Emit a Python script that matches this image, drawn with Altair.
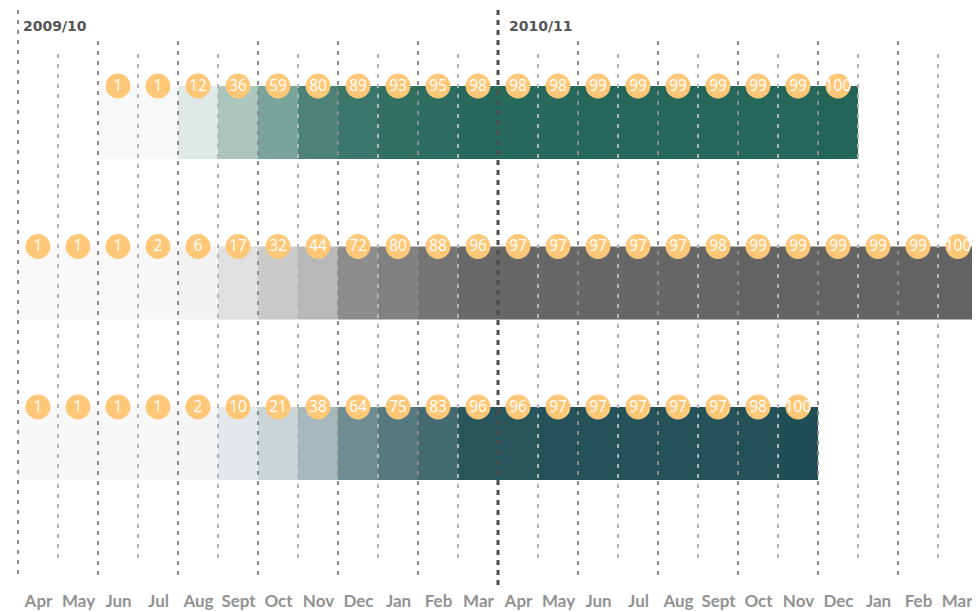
import json
import altair as alt
import pandas as pd

# ---- data ----
months = ["Apr", "May", "Jun", "Jul", "Aug", "Sept", "Oct", "Nov", "Dec", "Jan", "Feb", "Mar"]
month_labels = months + months          # Apr 2009 .. Mar 2011
years = ["2009/10", "2010/11"]
year_start_idx = [0, 12]

rows = ["A", "B", "C"]
row_a_start = 2   # Jun 2009
row_a = [1, 1, 12, 36, 59, 80, 89, 93, 95, 98, 98, 98, 99, 99, 99, 99, 99, 99, 100]
row_b_start = 0   # Apr 2009
row_b = [1, 1, 1, 2, 6, 17, 32, 44, 72, 80, 88, 96, 97, 97, 97, 97, 97, 98, 99, 99, 99, 99, 99, 100]
row_c_start = 0   # Apr 2009
row_c = [1, 1, 1, 1, 2, 10, 21, 38, 64, 75, 83, 96, 96, 97, 97, 97, 97, 97, 98, 100]
row_colors = ["#236657", "#636363", "#204e56"]

recs = []
for r, start, vals in zip(rows, [row_a_start, row_b_start, row_c_start], [row_a, row_b, row_c]):
    for k, v in enumerate(vals):
        recs.append({"row": r, "i": start + k, "i2": start + k + 1, "mid": start + k + 0.5, "value": v})
df = pd.DataFrame(recs)

n = len(month_labels)
lines = pd.DataFrame({"i": list(range(n))})
def kind(i):
    if i == 0:
        return "start"
    if i in year_start_idx:
        return "year"
    return "major" if i % 2 == 0 else "minor"
lines["kind"] = [kind(i) for i in lines["i"]]

ydf = pd.DataFrame({"label": years, "i": year_start_idx})

# ---- scales / axis ----
xs = alt.Scale(domain=[0, n], range=[10, 10 + 40.0 * n], nice=False, zero=False)
ys = alt.Scale(domain=rows, range=[0, 550], paddingInner=0.545, paddingOuter=0.486)

label_expr = json.dumps(month_labels) + "[floor(datum.value)]"
last_test = f"datum.value > {n - 1}"
x_axis = alt.Axis(
    values=[k + 0.5 for k in range(n)], labelExpr=label_expr, title=None,
    grid=False, ticks=False, tickSize=0, domain=False, labelPadding=13,
    labelFont="Lato", labelFontWeight="bold", labelFontSize=17, labelColor="#929292",
    labelOverlap=False, labelFlush=False, labelBound=False,
    labelAlign={"condition": {"test": last_test, "value": "right"}, "value": "center"},
    labelOffset={"condition": {"test": last_test, "value": 14}, "value": 0},
)

def X(field):
    return alt.X(field, scale=xs, axis=x_axis)

bars = alt.Chart(df).mark_rect().encode(
    x=X("i:Q"),
    x2="i2:Q",
    y=alt.Y("row:N", scale=ys, axis=None),
    color=alt.Color("row:N", scale=alt.Scale(domain=rows, range=row_colors), legend=None),
    opacity=alt.Opacity("value:Q", scale=alt.Scale(domain=[0, 100], range=[0.03, 1]), legend=None),
)

def rule_layer(k, color, width, dash, top, bottom):
    return alt.Chart(lines).transform_filter(alt.datum.kind == k).mark_rule(
        color=color, strokeWidth=width, strokeDash=dash
    ).encode(
        x=X("i:Q"),
        y=alt.value(top), y2=alt.value(bottom),
    )

r_minor = rule_layer("minor", "#b5b5b5", 2, [4, 6], 46, 552)
r_major = rule_layer("major", "#8c8c8c", 2, [4, 6], 33, 569)
r_start = rule_layer("start", "#8c8c8c", 2, [4, 6], 2, 569)
r_year = rule_layer("year", "#4d4d4d", 3, [5, 5], 2, 577)

circles = alt.Chart(df).mark_circle(size=616, opacity=1, color="#fec878").encode(
    x=X("mid:Q"),
    y=alt.Y("row:N", scale=ys, bandPosition=0, axis=None),
)

texts = alt.Chart(df).mark_text(font="Open Sans", fontSize=15.5, color="white",
                                align="center", baseline="middle").encode(
    x=X("mid:Q"),
    y=alt.Y("row:N", scale=ys, bandPosition=0, axis=None),
    text="value:Q",
)

def year_layer(idx, dx):
    return alt.Chart(ydf).transform_filter(alt.datum.i == idx).mark_text(
        font="DejaVu Sans", fontWeight="bold", fontSize=14, color="#555555",
        align="left", baseline="alphabetic", dx=dx
    ).encode(
        x=X("i:Q"),
        y=alt.value(23),
        text="label:N",
    )

chart = alt.layer(
    bars, r_minor, r_major, r_start, r_year, circles, texts,
    year_layer(0, 5), year_layer(12, 11),
).properties(
    width=964, height=572,
    padding={"left": 0, "top": 0, "right": 0, "bottom": 32},
    autosize=alt.AutoSizeParams(type="none"),
    background="white",
).configure_view(stroke=None)

chart.save("out.html", embed_options={"renderer": "svg", "actions": False})
